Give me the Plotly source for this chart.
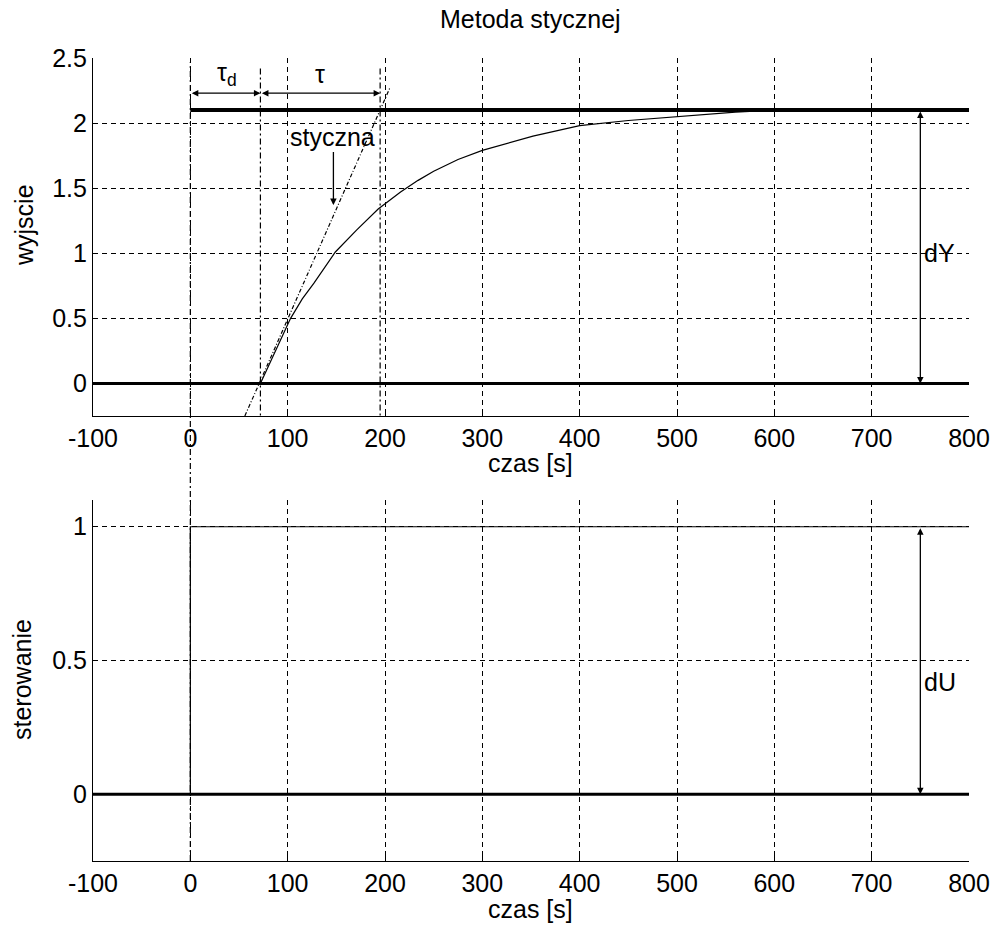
import plotly.graph_objects as go

# ---------------- data ----------------
t_resp = [72, 80, 90, 103, 115, 127, 149, 171, 193, 216, 234, 250, 275, 300, 352, 400, 450, 500, 527, 560, 590]
y_resp = [0.0, 0.13, 0.29, 0.50, 0.65, 0.77, 1.01, 1.18, 1.34, 1.47, 1.56, 1.63, 1.72, 1.79, 1.90, 1.98, 2.02, 2.05, 2.07, 2.085, 2.095]

t_tangent = [56, 205]
y_tangent = [-0.25, 2.27]

t_span = [-100, 800]
y_final = 2.1          # steady-state output
t_final = [0, 800]
y_zero = [0, 0]

t_step = [-100, 0, 0, 800]
u_step = [0, 0, 1, 1]

t_delay = 72           # tau_d end
t_tau_end = 195        # tau end
t_marker = 750         # dY / dU arrow position

x_ticks = [-100, 0, 100, 200, 300, 400, 500, 600, 700, 800]
x_ticktext = ["-100", "0", "100", "200", "300", "400", "500", "600", "700", "800"]
y1_ticks = [0, 0.5, 1, 1.5, 2, 2.5]
y1_ticktext = ["0", "0.5", "1", "1.5", "2", "2.5"]
y2_ticks = [0, 0.5, 1]
y2_ticktext = ["0", "0.5", "1"]

FONT = "Liberation Sans"
FS = 25
BLACK = "black"

fig = go.Figure()

# ---------- top plot ----------
fig.add_trace(go.Scatter(x=t_span, y=y_zero, mode="lines", line=dict(color=BLACK, width=3),
                         xaxis="x", yaxis="y", showlegend=False, hoverinfo="skip"))
fig.add_trace(go.Scatter(x=t_final, y=[y_final, y_final], mode="lines", line=dict(color=BLACK, width=4),
                         xaxis="x", yaxis="y", showlegend=False, hoverinfo="skip"))
fig.add_trace(go.Scatter(x=t_resp, y=y_resp, mode="lines", line=dict(color=BLACK, width=1.2),
                         xaxis="x", yaxis="y", showlegend=False))
fig.add_trace(go.Scatter(x=t_tangent, y=y_tangent, mode="lines",
                         line=dict(color=BLACK, width=1.2, dash="4px,2px,1px,2px"),
                         xaxis="x", yaxis="y", showlegend=False, hoverinfo="skip"))
for tv in [t_delay, t_tau_end]:
    fig.add_trace(go.Scatter(x=[tv, tv], y=[2.42, -0.25], mode="lines",
                             line=dict(color=BLACK, width=1.2, dash="6px,3px,2px,3px"),
                             xaxis="x", yaxis="y", showlegend=False, hoverinfo="skip"))

# ---------- bottom plot ----------
fig.add_trace(go.Scatter(x=t_span, y=y_zero, mode="lines", line=dict(color=BLACK, width=3),
                         xaxis="x2", yaxis="y2", showlegend=False, hoverinfo="skip"))
fig.add_trace(go.Scatter(x=t_step, y=u_step, mode="lines", line=dict(color=BLACK, width=1.2),
                         xaxis="x2", yaxis="y2", showlegend=False))

top_dom = [1 - 416 / 931, 1 - 58 / 931]
bot_dom = [1 - 861 / 931, 1 - 500 / 931]
x_dom = [93 / 1001, 969 / 1001]

# vertical dash-dot line at t=0 through both plots
shapes = [
    dict(type="line", xref="x", yref="paper", x0=0, x1=0, y0=bot_dom[0], y1=1 - 62 / 931,
         line=dict(color=BLACK, width=1.2, dash="6px,3px,2px,3px"), layer="above"),
]

annotations = []


def dbl_arrow(x0, y0, x1, y1, xr, yr):
    return dict(x=x1, y=y1, ax=x0, ay=y0, xref=xr, yref=yr, axref=xr, ayref=yr,
                showarrow=True, arrowhead=2, arrowside="end+start", arrowsize=1,
                arrowwidth=1.3, arrowcolor=BLACK, text="")


annotations.append(dbl_arrow(0, 2.23, t_delay, 2.23, "x", "y"))
annotations.append(dbl_arrow(t_delay, 2.23, t_tau_end, 2.23, "x", "y"))
annotations.append(dbl_arrow(t_marker, y_final, t_marker, 0, "x", "y"))
annotations.append(dbl_arrow(t_marker, 1, t_marker, 0, "x2", "y2"))
# styczna arrow
annotations.append(dict(x=147, y=1.37, ax=147, ay=1.79, xref="x", yref="y", axref="x", ayref="y",
                        showarrow=True, arrowhead=2, arrowsize=1, arrowwidth=1.3, arrowcolor=BLACK, text=""))

txt = dict(showarrow=False, font=dict(family=FONT, size=FS, color=BLACK), yanchor="middle")
annotations += [
    dict(x=38, y=2.38, xref="x", yref="y", text="τ<sub>d</sub>", xanchor="center", **txt),
    dict(x=133, y=2.38, xref="x", yref="y", text="τ", xanchor="center", **txt),
    dict(x=146, y=1.89, xref="x", yref="y", text="styczna", xanchor="center", **txt),
    dict(x=752, y=1.0, xref="x", yref="y", text="dY", xanchor="left", **txt),
    dict(x=752, y=0.42, xref="x2", yref="y2", text="dU", xanchor="left", **txt),
    # titles
    dict(x=0.53, y=1 - 19 / 931, xref="paper", yref="paper", text="Metoda stycznej", xanchor="center", **txt),
    dict(x=0.53, y=1 - 463 / 931, xref="paper", yref="paper", text="czas [s]", xanchor="center", **txt),
    dict(x=0.53, y=1 - 909 / 931, xref="paper", yref="paper", text="czas [s]", xanchor="center", **txt),
    dict(x=24 / 1001, y=1 - 225 / 931, xref="paper", yref="paper", text="wyjscie", textangle=-90,
         xanchor="center", **txt),
    dict(x=22 / 1001, y=1 - 680 / 931, xref="paper", yref="paper", text="sterowanie", textangle=-90,
         xanchor="center", **txt),
]

axis_common = dict(showline=True, linecolor=BLACK, linewidth=1.2, mirror=False,
                   showgrid=True, gridcolor=BLACK, gridwidth=1, griddash="5px,4px",
                   ticks="inside", ticklen=5, tickcolor=BLACK, automargin=False,
                   tickfont=dict(family=FONT, size=FS, color=BLACK), zeroline=False)

fig.update_layout(
    width=1001, height=931, margin=dict(l=0, r=0, t=0, b=0),
    paper_bgcolor="white", plot_bgcolor="white",
    xaxis=dict(domain=x_dom, range=[-100, 800], tickvals=x_ticks, ticktext=x_ticktext, anchor="y", **axis_common),
    yaxis=dict(domain=top_dom, range=[-0.25, 2.5], tickvals=y1_ticks, ticktext=y1_ticktext, anchor="x", **axis_common),
    xaxis2=dict(domain=x_dom, range=[-100, 800], tickvals=x_ticks, ticktext=x_ticktext, anchor="y2", **axis_common),
    yaxis2=dict(domain=bot_dom, range=[-0.25, 1.1], tickvals=y2_ticks, ticktext=y2_ticktext, anchor="x2", **axis_common),
    shapes=shapes, annotations=annotations, showlegend=False,
)

fig.write_html("out.html")
